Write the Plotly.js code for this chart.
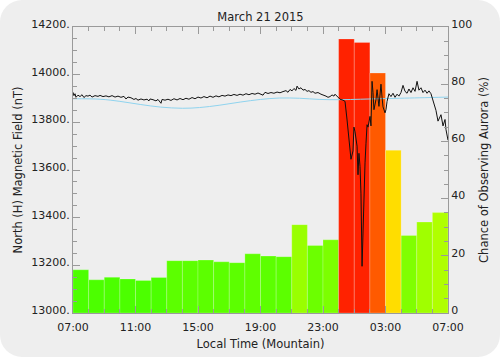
<!DOCTYPE html>
<html><head><meta charset="utf-8">
<script src="https://cdn.plot.ly/plotly-3.0.1.min.js"></script>
<style>
html,body{margin:0;padding:0;background:#ffffff;}
#panel{position:absolute;left:0;top:0;width:500px;height:357px;background:#eeeeee;border-radius:22px;overflow:hidden;}
#chart{width:500px;height:357px;}
</style></head>
<body><div id="panel"><div id="chart"></div></div>
<script>
// Hours since 07:00 local (Mountain) time
const barStartHours = [0,1,2,3,4,5,6,7,8,9,10,11,12,13,14,15,16,17,18,19,20,21,22,23];
const auroraChance = [15.1,11.6,12.5,11.9,11.4,12.4,18.3,18.3,18.5,17.9,17.6,20.7,19.9,19.7,30.9,23.6,25.6,95.8,94.6,83.9,56.9,27.1,31.8,35.1];
const barColors = ['#4cff00','#4cff00','#4cff00','#4cff00','#4cff00','#4cff00','#5cff00','#5cff00','#5cff00','#5cff00','#5cff00','#5fff00','#5cff00','#5cff00','#99ff00','#6cff00','#7cff00','#ff2200','#ff2200','#ff5a00','#ffdd00','#80ff00','#a0ff00','#b0ff00'];

const fieldHours = [0,0.06,0.13,0.19,0.32,0.45,0.58,0.70,0.83,0.96,1.09,1.22,1.41,1.60,1.73,1.92,2.11,2.30,2.50,2.69,2.88,3.07,3.26,3.39,3.52,3.71,3.90,4.03,4.16,4.35,4.54,4.74,4.86,4.93,5.12,5.31,5.44,5.57,5.63,5.70,5.89,6.08,6.27,6.46,6.66,6.85,7.04,7.23,7.42,7.62,7.81,8.00,8.19,8.38,8.58,8.77,8.96,9.15,9.34,9.54,9.73,9.92,10.11,10.30,10.50,10.69,10.88,11.07,11.26,11.46,11.65,11.84,12.03,12.16,12.29,12.48,12.67,12.86,13.06,13.25,13.44,13.63,13.76,13.89,14.02,14.14,14.27,14.34,14.46,14.59,14.72,14.85,14.98,15.10,15.23,15.36,15.49,15.68,15.87,16.06,16.19,16.32,16.45,16.58,16.70,16.77,16.90,17.09,17.28,17.41,17.54,17.66,17.79,17.92,17.98,18.05,18.18,18.24,18.30,18.37,18.43,18.50,18.56,18.62,18.69,18.75,18.82,18.88,19.01,19.07,19.14,19.20,19.26,19.39,19.46,19.58,19.65,19.71,19.78,19.84,19.97,20.03,20.10,20.22,20.35,20.48,20.61,20.74,20.86,20.99,21.12,21.25,21.38,21.50,21.63,21.76,21.89,22.02,22.14,22.27,22.40,22.53,22.66,22.78,22.91,23.04,23.17,23.23,23.36,23.49,23.55,23.68,23.74,23.81,23.87,23.94,24.00];
const fieldNT = [13926,13912,13920,13905,13914,13908,13916,13904,13912,13910,13914,13906,13912,13909,13913,13908,13911,13907,13912,13906,13910,13905,13909,13898,13906,13903,13896,13900,13893,13898,13894,13897,13890,13898,13895,13890,13896,13888,13880,13896,13893,13897,13892,13899,13894,13900,13895,13901,13897,13904,13899,13906,13902,13908,13903,13910,13905,13911,13907,13913,13910,13915,13912,13917,13913,13918,13914,13920,13916,13921,13918,13923,13919,13914,13926,13921,13925,13922,13927,13924,13929,13933,13926,13938,13932,13942,13934,13952,13940,13945,13935,13938,13930,13933,13926,13929,13922,13925,13918,13915,13910,13905,13908,13915,13910,13918,13908,13897,13893,13888,13810,13720,13645,13680,13780,13760,13700,13580,13670,13615,13500,13196,13360,13500,13630,13710,13790,13780,13825,13785,13972,13925,13853,13895,13937,13867,13918,13960,13905,13865,13840,13853,13888,13920,13908,13922,13905,13918,13910,13925,13955,13930,13922,13940,13925,13945,13930,13972,13935,13945,13925,13935,13922,13932,13920,13895,13865,13850,13805,13820,13832,13785,13805,13812,13770,13741,13725];

const quietHours = [0,1.73,3,4.3,5.6,7,8.1,9.4,10.7,12,13.2,14.5,15.8,17.1,18.4,19.6,20.9,22.2,24];
const quietNT = [13899,13897,13888,13875,13864,13859,13862,13872,13885,13896,13902,13901,13896,13895,13897,13899,13901,13903,13906];

const xTickVals = [0,4,8,12,16,20,24];
const xTickText = ['07:00','11:00','15:00','19:00','23:00','03:00','07:00'];

const axisGray = '#9a9a9a';
const font = {family:'DejaVu Sans, Liberation Sans, sans-serif', size:11, color:'#222'};
const titleFont = {...font, size:11.5};

const traces = [
  {type:'bar', x: barStartHours.map(h=>h+0.5), y: auroraChance, width:1,
   marker:{color:barColors, line:{color:'rgba(255,255,255,0.35)', width:0.6}},
   yaxis:'y', xaxis:'x', hoverinfo:'skip'},
  {type:'scatter', mode:'lines', x: quietHours, y: quietNT, yaxis:'y2',
   line:{color:'#8fd3ee', width:1, shape:'spline'}},
  {type:'scatter', mode:'lines', x: fieldHours, y: fieldNT, yaxis:'y2',
   line:{color:'#111', width:1}}
];

const layout = {
  width:500, height:357,
  margin:{l:73, r:52, t:27, b:44},
  paper_bgcolor:'rgba(0,0,0,0)', plot_bgcolor:'rgba(0,0,0,0)',
  font: font, showlegend:false, bargap:0,
  title:{text:'March 21 2015', font:titleFont, x:0.521, xanchor:'center', y:0.953, yanchor:'middle', yref:'container'},
  xaxis:{range:[0,24], tickvals:xTickVals, ticktext:xTickText, ticks:'inside', ticklen:7, tickcolor:axisGray,
    showline:true, linecolor:axisGray, linewidth:1, mirror:'ticks', showgrid:false, zeroline:false,
    ticklabelstandoff:4,
    minor:{tickmode:'linear', tick0:0, dtick:1, ticks:'inside', ticklen:4, tickcolor:axisGray},
    title:{text:'Local Time (Mountain)', font:titleFont, standoff:6}, tickfont:font},
  yaxis:{range:[0,100], side:'right', dtick:20, tick0:0, ticks:'inside', ticklen:7, tickcolor:axisGray,
    showline:true, linecolor:axisGray, showgrid:false, zeroline:false, ticklabelshift:-3,
    minor:{tickmode:'linear', tick0:0, dtick:5, ticks:'inside', ticklen:4, tickcolor:axisGray},
    title:{text:'Chance of Observing Aurora (%)', font:titleFont, standoff:8}, tickfont:font},
  yaxis2:{range:[13000,14200], side:'left', overlaying:'y', dtick:200, tick0:13000, tickformat:'d', ticksuffix:'.',
    ticks:'inside', ticklen:7, tickcolor:axisGray, showline:true, linecolor:axisGray, showgrid:false, zeroline:false,
    ticklabelshift:-3,
    minor:{tickmode:'linear', tick0:13000, dtick:50, ticks:'inside', ticklen:4, tickcolor:axisGray},
    title:{text:'North (H) Magnetic Field (nT)', font:titleFont, standoff:6}, tickfont:font}
};
Plotly.newPlot('chart', traces, layout, {displayModeBar:false, staticPlot:true});
</script></body></html>
